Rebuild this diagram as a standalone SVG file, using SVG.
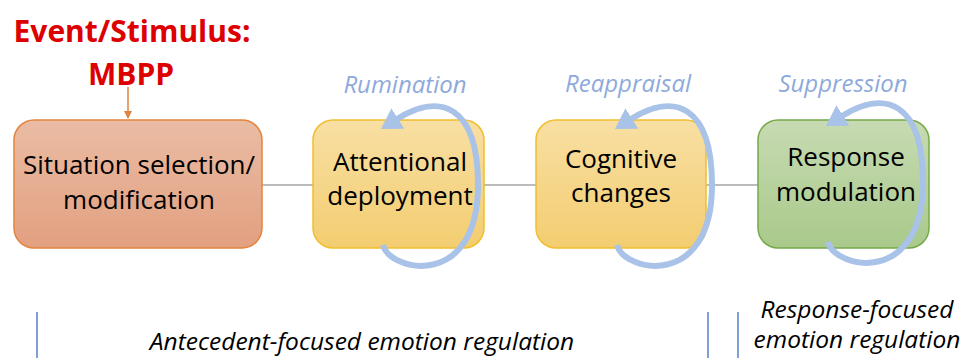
<svg xmlns="http://www.w3.org/2000/svg" width="963" height="358" viewBox="0 0 963 358">
<style>
.box{stroke-width:1.5}
.lbl{font-family:"Open Sans","Noto Sans",sans-serif;font-size:26px;fill:#000;text-anchor:middle}
.loopl{font-family:"Open Sans","Noto Sans",sans-serif;font-size:24px;font-style:italic;fill:#8eaadb;text-anchor:middle}
.bot{font-family:"Open Sans","Noto Sans",sans-serif;font-size:24.5px;font-style:italic;fill:#000;text-anchor:middle}
.title{font-family:"Open Sans","Noto Sans",sans-serif;font-size:30px;font-weight:bold;fill:#dd0000;text-anchor:middle}
.loop{fill:none;stroke:#a9c2e8;stroke-width:6;marker-end:url(#ah)}
.conn{stroke:#a6a6a6;stroke-width:1.3;fill:none}
.sep{stroke:#7f9fd6;stroke-width:2}
</style>
<defs>
<linearGradient id="g1" x1="0" y1="0" x2="0" y2="1"><stop offset="0" stop-color="#eabca4"/><stop offset="1" stop-color="#e2a080"/></linearGradient>
<linearGradient id="g2" x1="0" y1="0" x2="0" y2="1"><stop offset="0" stop-color="#f8dfa3"/><stop offset="1" stop-color="#f3cd70"/></linearGradient>
<linearGradient id="g3" x1="0" y1="0" x2="0" y2="1"><stop offset="0" stop-color="#c7dbb2"/><stop offset="1" stop-color="#a9c98b"/></linearGradient>
<marker id="ah" markerUnits="userSpaceOnUse" viewBox="0 0 20 24" markerWidth="20" markerHeight="24" refX="1" refY="12" orient="auto"><path d="M0,0 L20,12 L0,24 z" fill="#a9c2e8"/></marker>
<marker id="oa" markerUnits="userSpaceOnUse" viewBox="0 0 8 8" markerWidth="8" markerHeight="8" refX="7" refY="4" orient="auto"><path d="M0,0 L8,4 L0,8 z" fill="#e0833f"/></marker>
</defs>

<g id="title">
<text class="title" x="132" y="42">Event/Stimulus:</text>
<text class="title" x="131" y="85">MBPP</text>
</g>

<g id="connectors">
<line x1="128" y1="87" x2="128" y2="118" stroke="#e0833f" stroke-width="1.5" marker-end="url(#oa)"/>
<line class="conn" x1="262" y1="185" x2="313" y2="185"/>
<line class="conn" x1="484" y1="185" x2="536" y2="185"/>
<line class="conn" x1="706" y1="185" x2="758" y2="185"/>
</g>

<g id="n1">
<rect class="box" x="14" y="120" width="248" height="128" rx="20" fill="url(#g1)" stroke="#e3843f"/>
<text class="lbl" x="139" y="174">Situation selection/</text>
<text class="lbl" x="139" y="209">modification</text>
</g>

<g id="n2">
<rect class="box" x="313" y="120" width="171" height="128" rx="20" fill="url(#g2)" stroke="#f1be2e"/>
<text class="lbl" x="400" y="171">Attentional</text>
<text class="lbl" x="400" y="205">deployment</text>
</g>

<g id="n3">
<rect class="box" x="536" y="120" width="170" height="128" rx="20" fill="url(#g2)" stroke="#f1be2e"/>
<text class="lbl" x="621" y="168">Cognitive</text>
<text class="lbl" x="621" y="202">changes</text>
</g>

<g id="n4">
<rect class="box" x="758" y="120" width="171" height="128" rx="20" fill="url(#g3)" stroke="#76a94a"/>
<text class="lbl" x="846" y="166">Response</text>
<text class="lbl" x="846" y="201">modulation</text>
</g>

<g id="loops">
<path class="loop" d="M 383 245 C 390 272, 478 290, 478 185 C 478 105, 440 92, 397 119"/>
<path class="loop" transform="translate(234,0)" d="M 383 245 C 390 272, 478 290, 478 185 C 478 105, 440 92, 397 119"/>
<path class="loop" transform="translate(445,-3)" d="M 383 245 C 390 272, 478 290, 478 185 C 478 105, 440 92, 397 119"/>
<text class="loopl" x="405" y="93">Rumination</text>
<text class="loopl" x="628" y="92">Reappraisal</text>
<text class="loopl" x="843" y="92">Suppression</text>
</g>

<g id="regions">
<line class="sep" x1="37" y1="312" x2="37" y2="358"/>
<line class="sep" x1="708" y1="312" x2="708" y2="358"/>
<line class="sep" x1="738" y1="312" x2="738" y2="358"/>
<text class="bot" x="362" y="350">Antecedent-focused emotion regulation</text>
<text class="bot" x="857" y="318">Response-focused</text>
<text class="bot" x="857" y="348">emotion regulation</text>
</g>
</svg>
